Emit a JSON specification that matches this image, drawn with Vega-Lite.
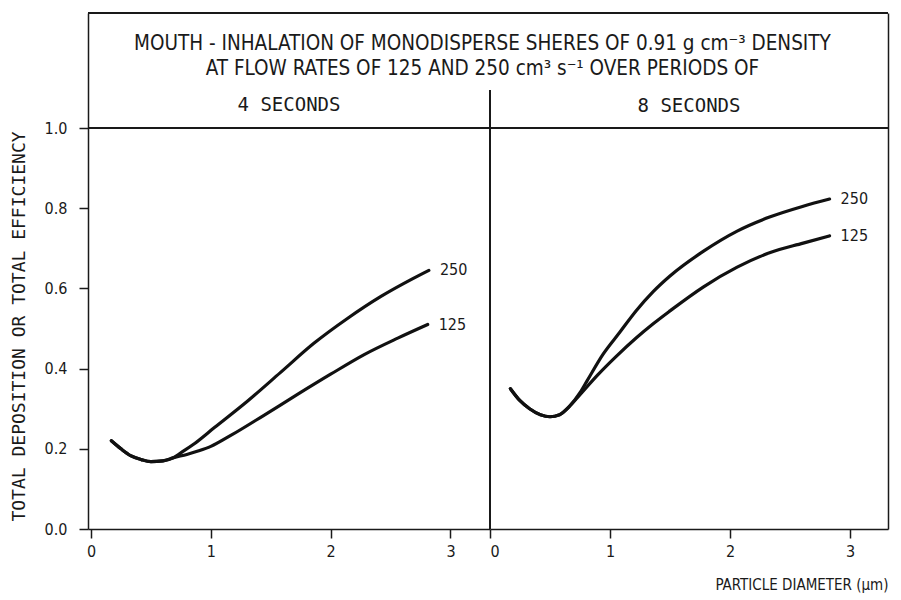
{
  "$schema": "https://vega.github.io/schema/vega-lite/v6.json",
  "padding": {"left": 10, "top": 12, "right": 13, "bottom": 5},
  "background": "white",
  "title": {
    "text": ["MOUTH - INHALATION OF MONODISPERSE SHERES OF 0.91 g cm⁻³ DENSITY", "AT FLOW RATES OF 125 AND 250 cm³ s⁻¹ OVER PERIODS OF"],
    "anchor": "middle",
    "offset": -67,
    "dx": 33,
    "fontSize": 20.5,
    "fontWeight": "normal",
    "lineHeight": 25,
    "color": "#1a1a1a"
  },
  "config": {
    "view": {"stroke": null},
    "font": "DejaVu Sans Condensed, Liberation Sans Narrow, sans-serif",
    "axis": {
      "domainColor": "#1a1a1a",
      "domainWidth": 1.5,
      "tickColor": "#1a1a1a",
      "tickWidth": 1.5,
      "tickSize": 9,
      "grid": false,
      "labelColor": "#1a1a1a",
      "labelFontSize": 16,
      "titleColor": "#1a1a1a",
      "titleFontSize": 15,
      "titleFontWeight": "normal"
    }
  },
  "datasets": {
    "curves": [
      {"period": "4 SECONDS", "rate": 250, "d": 0.17, "eff": 0.22},
      {"period": "4 SECONDS", "rate": 250, "d": 0.25, "eff": 0.2},
      {"period": "4 SECONDS", "rate": 250, "d": 0.33, "eff": 0.183},
      {"period": "4 SECONDS", "rate": 250, "d": 0.42, "eff": 0.173},
      {"period": "4 SECONDS", "rate": 250, "d": 0.5, "eff": 0.168},
      {"period": "4 SECONDS", "rate": 250, "d": 0.6, "eff": 0.17},
      {"period": "4 SECONDS", "rate": 250, "d": 0.69, "eff": 0.178},
      {"period": "4 SECONDS", "rate": 250, "d": 0.75, "eff": 0.19},
      {"period": "4 SECONDS", "rate": 250, "d": 0.85, "eff": 0.21},
      {"period": "4 SECONDS", "rate": 250, "d": 1.03, "eff": 0.253},
      {"period": "4 SECONDS", "rate": 250, "d": 1.31, "eff": 0.32},
      {"period": "4 SECONDS", "rate": 250, "d": 1.58, "eff": 0.39},
      {"period": "4 SECONDS", "rate": 250, "d": 1.86, "eff": 0.463},
      {"period": "4 SECONDS", "rate": 250, "d": 2.14, "eff": 0.525},
      {"period": "4 SECONDS", "rate": 250, "d": 2.42, "eff": 0.58},
      {"period": "4 SECONDS", "rate": 250, "d": 2.69, "eff": 0.625},
      {"period": "4 SECONDS", "rate": 250, "d": 2.82, "eff": 0.645},
      {"period": "4 SECONDS", "rate": 125, "d": 0.17, "eff": 0.22},
      {"period": "4 SECONDS", "rate": 125, "d": 0.25, "eff": 0.2},
      {"period": "4 SECONDS", "rate": 125, "d": 0.33, "eff": 0.183},
      {"period": "4 SECONDS", "rate": 125, "d": 0.42, "eff": 0.173},
      {"period": "4 SECONDS", "rate": 125, "d": 0.5, "eff": 0.168},
      {"period": "4 SECONDS", "rate": 125, "d": 0.6, "eff": 0.17},
      {"period": "4 SECONDS", "rate": 125, "d": 0.69, "eff": 0.178},
      {"period": "4 SECONDS", "rate": 125, "d": 0.8, "eff": 0.186},
      {"period": "4 SECONDS", "rate": 125, "d": 0.9, "eff": 0.195},
      {"period": "4 SECONDS", "rate": 125, "d": 1.0, "eff": 0.206},
      {"period": "4 SECONDS", "rate": 125, "d": 1.17, "eff": 0.234},
      {"period": "4 SECONDS", "rate": 125, "d": 1.44, "eff": 0.283},
      {"period": "4 SECONDS", "rate": 125, "d": 1.72, "eff": 0.335},
      {"period": "4 SECONDS", "rate": 125, "d": 2.0, "eff": 0.386},
      {"period": "4 SECONDS", "rate": 125, "d": 2.28, "eff": 0.435},
      {"period": "4 SECONDS", "rate": 125, "d": 2.56, "eff": 0.476},
      {"period": "4 SECONDS", "rate": 125, "d": 2.81, "eff": 0.51},
      {"period": "8 SECONDS", "rate": 250, "d": 0.17, "eff": 0.35},
      {"period": "8 SECONDS", "rate": 250, "d": 0.25, "eff": 0.32},
      {"period": "8 SECONDS", "rate": 250, "d": 0.33, "eff": 0.3},
      {"period": "8 SECONDS", "rate": 250, "d": 0.42, "eff": 0.285},
      {"period": "8 SECONDS", "rate": 250, "d": 0.5, "eff": 0.28},
      {"period": "8 SECONDS", "rate": 250, "d": 0.58, "eff": 0.285},
      {"period": "8 SECONDS", "rate": 250, "d": 0.66, "eff": 0.305},
      {"period": "8 SECONDS", "rate": 250, "d": 0.75, "eff": 0.34},
      {"period": "8 SECONDS", "rate": 250, "d": 0.81, "eff": 0.37},
      {"period": "8 SECONDS", "rate": 250, "d": 0.94, "eff": 0.435},
      {"period": "8 SECONDS", "rate": 250, "d": 1.08, "eff": 0.49},
      {"period": "8 SECONDS", "rate": 250, "d": 1.22, "eff": 0.545},
      {"period": "8 SECONDS", "rate": 250, "d": 1.36, "eff": 0.592},
      {"period": "8 SECONDS", "rate": 250, "d": 1.5, "eff": 0.631},
      {"period": "8 SECONDS", "rate": 250, "d": 1.78, "eff": 0.693},
      {"period": "8 SECONDS", "rate": 250, "d": 2.06, "eff": 0.743},
      {"period": "8 SECONDS", "rate": 250, "d": 2.33, "eff": 0.778},
      {"period": "8 SECONDS", "rate": 250, "d": 2.61, "eff": 0.805},
      {"period": "8 SECONDS", "rate": 250, "d": 2.83, "eff": 0.823},
      {"period": "8 SECONDS", "rate": 125, "d": 0.17, "eff": 0.35},
      {"period": "8 SECONDS", "rate": 125, "d": 0.25, "eff": 0.32},
      {"period": "8 SECONDS", "rate": 125, "d": 0.33, "eff": 0.3},
      {"period": "8 SECONDS", "rate": 125, "d": 0.42, "eff": 0.285},
      {"period": "8 SECONDS", "rate": 125, "d": 0.5, "eff": 0.28},
      {"period": "8 SECONDS", "rate": 125, "d": 0.58, "eff": 0.285},
      {"period": "8 SECONDS", "rate": 125, "d": 0.66, "eff": 0.305},
      {"period": "8 SECONDS", "rate": 125, "d": 0.75, "eff": 0.335},
      {"period": "8 SECONDS", "rate": 125, "d": 0.9, "eff": 0.385},
      {"period": "8 SECONDS", "rate": 125, "d": 1.05, "eff": 0.43},
      {"period": "8 SECONDS", "rate": 125, "d": 1.22, "eff": 0.477},
      {"period": "8 SECONDS", "rate": 125, "d": 1.36, "eff": 0.512},
      {"period": "8 SECONDS", "rate": 125, "d": 1.5, "eff": 0.544},
      {"period": "8 SECONDS", "rate": 125, "d": 1.78, "eff": 0.604},
      {"period": "8 SECONDS", "rate": 125, "d": 2.06, "eff": 0.653},
      {"period": "8 SECONDS", "rate": 125, "d": 2.33, "eff": 0.689},
      {"period": "8 SECONDS", "rate": 125, "d": 2.61, "eff": 0.713},
      {"period": "8 SECONDS", "rate": 125, "d": 2.83, "eff": 0.731}
    ]
  },
  "spacing": 0,
  "bounds": "flush",
  "hconcat": [
    {
      "width": 402,
      "height": 516,
      "title": {"text": "4 SECONDS", "offset": -103, "frame": "group", "anchor": "middle", "font": "DejaVu Sans Mono, Liberation Mono, monospace", "fontSize": 19, "fontWeight": "normal", "color": "#1a1a1a"},
      "data": {"name": "curves"},
      "transform": [{"filter": "datum.period == '4 SECONDS'"}],
      "layer": [
        {
          "mark": {"type": "line", "interpolate": "monotone", "strokeWidth": 3.2, "color": "#111111", "strokeCap": "round"},
          "encoding": {
            "x": {"field": "d", "type": "quantitative", "scale": {"domain": [-0.025, 3.33], "nice": false, "zero": false},
                  "axis": {"values": [0, 1, 2, 3], "format": "d", "title": null, "labelPadding": 5}},
            "y": {"field": "eff", "type": "quantitative", "scale": {"domain": [0, 1.287], "nice": false},
                  "axis": {"values": [0, 0.2, 0.4, 0.6, 0.8, 1.0], "format": ".1f", "title": "TOTAL DEPOSITION OR TOTAL EFFICIENCY", "titleFont": "DejaVu Sans Mono, Liberation Mono, monospace", "titleFontSize": 18, "titleY": 313, "labelPadding": 12, "titlePadding": 16}},
            "detail": {"field": "rate", "type": "nominal"}
          }
        },
        {
          "transform": [{"filter": "datum.d >= 2.8"}],
          "mark": {"type": "text", "align": "left", "baseline": "middle", "dx": 11, "fontSize": 16, "color": "#1a1a1a"},
          "encoding": {
            "x": {"field": "d", "type": "quantitative"},
            "y": {"field": "eff", "type": "quantitative"},
            "text": {"field": "rate", "type": "nominal"}
          }
        },
        {"mark": {"type": "rule", "color": "#1a1a1a", "strokeWidth": 1.5}, "encoding": {"y": {"datum": 1}}},
        {"mark": {"type": "rule", "color": "#1a1a1a", "strokeWidth": 1.5}, "encoding": {"y": {"datum": 1.287}}},
        {"mark": {"type": "rule", "color": "#1a1a1a", "strokeWidth": 1.2}, "encoding": {"x": {"datum": 3.33}, "y": {"datum": 0}, "y2": {"datum": 1.095}}}
      ]
    },
    {
      "width": 398,
      "height": 516,
      "title": {"text": "8 SECONDS", "offset": -104, "frame": "group", "anchor": "middle", "font": "DejaVu Sans Mono, Liberation Mono, monospace", "fontSize": 19, "fontWeight": "normal", "color": "#1a1a1a"},
      "data": {"name": "curves"},
      "transform": [{"filter": "datum.period == '8 SECONDS'"}],
      "layer": [
        {
          "mark": {"type": "line", "interpolate": "monotone", "strokeWidth": 3.2, "color": "#111111", "strokeCap": "round"},
          "encoding": {
            "x": {"field": "d", "type": "quantitative", "scale": {"domain": [0, 3.317], "nice": false, "zero": false},
                  "axis": {"values": [0, 1, 2, 3], "format": "d", "title": "PARTICLE DIAMETER (μm)", "titleAnchor": "end", "titlePadding": 18, "labelPadding": 5}},
            "y": {"field": "eff", "type": "quantitative", "scale": {"domain": [0, 1.287], "nice": false},
                  "axis": {"orient": "right", "labels": false, "ticks": false, "title": null}},
            "detail": {"field": "rate", "type": "nominal"}
          }
        },
        {
          "transform": [{"filter": "datum.d >= 2.8"}],
          "mark": {"type": "text", "align": "left", "baseline": "middle", "dx": 11, "fontSize": 16, "color": "#1a1a1a"},
          "encoding": {
            "x": {"field": "d", "type": "quantitative"},
            "y": {"field": "eff", "type": "quantitative"},
            "text": {"field": "rate", "type": "nominal"}
          }
        },
        {"mark": {"type": "rule", "color": "#1a1a1a", "strokeWidth": 1.5}, "encoding": {"y": {"datum": 1}}},
        {"mark": {"type": "rule", "color": "#1a1a1a", "strokeWidth": 1.5}, "encoding": {"y": {"datum": 1.287}}}
      ]
    }
  ]
}
